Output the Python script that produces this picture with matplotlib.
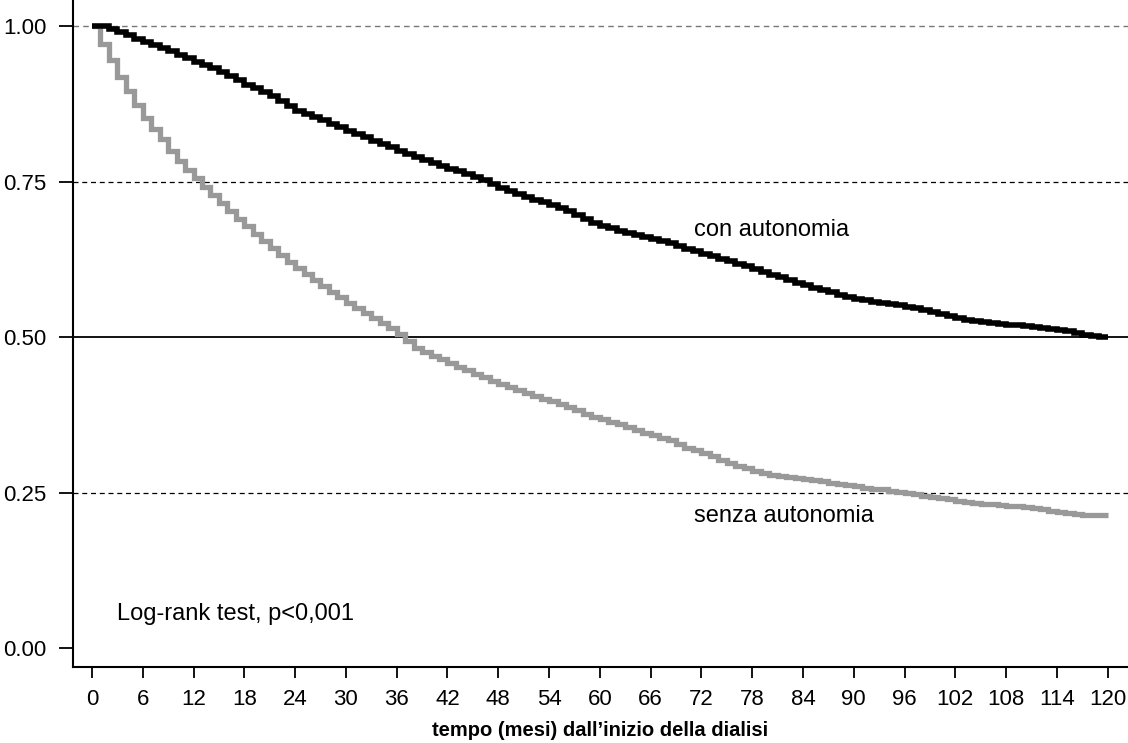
import matplotlib
matplotlib.use('Agg')
import matplotlib.pyplot as plt

plt.rcParams['font.family'] = ['Liberation Sans', 'DejaVu Sans']

# mesi dall'inizio della dialisi (0..120)
mesi = list(range(0, 121))

con_autonomia = [
    1.000, 1.000, 0.995, 0.990, 0.985, 0.980, 0.975, 0.970, 0.965, 0.960,
    0.953, 0.948, 0.943, 0.938, 0.933, 0.927, 0.920, 0.913, 0.906, 0.900,
    0.894, 0.887, 0.879, 0.871, 0.864, 0.859, 0.854, 0.849, 0.843, 0.837,
    0.831, 0.826, 0.821, 0.816, 0.811, 0.806, 0.800, 0.795, 0.790, 0.785,
    0.780, 0.775, 0.771, 0.767, 0.762, 0.757, 0.752, 0.746, 0.740, 0.735,
    0.730, 0.726, 0.721, 0.717, 0.712, 0.707, 0.702, 0.696, 0.690, 0.684,
    0.679, 0.675, 0.671, 0.667, 0.664, 0.661, 0.658, 0.655, 0.651, 0.647,
    0.642, 0.638, 0.634, 0.630, 0.626, 0.622, 0.618, 0.614, 0.610, 0.605,
    0.600, 0.596, 0.592, 0.587, 0.583, 0.579, 0.576, 0.572, 0.568, 0.565,
    0.562, 0.559, 0.557, 0.555, 0.553, 0.551, 0.549, 0.546, 0.543, 0.540,
    0.537, 0.534, 0.531, 0.528, 0.526, 0.524, 0.522, 0.521, 0.520, 0.519,
    0.518, 0.517, 0.515, 0.513, 0.511, 0.509, 0.506, 0.503, 0.501, 0.500,
    0.500,
]

senza_autonomia = [
    1.000, 0.972, 0.945, 0.918, 0.895, 0.873, 0.852, 0.835, 0.818, 0.800,
    0.783, 0.768, 0.755, 0.742, 0.728, 0.715, 0.702, 0.690, 0.678, 0.666,
    0.654, 0.643, 0.632, 0.621, 0.611, 0.601, 0.591, 0.582, 0.573, 0.564,
    0.555, 0.547, 0.539, 0.531, 0.523, 0.515, 0.505, 0.493, 0.483, 0.476,
    0.470, 0.464, 0.458, 0.452, 0.447, 0.441, 0.436, 0.430, 0.425, 0.420,
    0.415, 0.410, 0.405, 0.401, 0.397, 0.392, 0.387, 0.382, 0.377, 0.372,
    0.368, 0.364, 0.360, 0.355, 0.350, 0.346, 0.342, 0.338, 0.334, 0.328,
    0.322, 0.318, 0.313, 0.308, 0.303, 0.298, 0.293, 0.289, 0.285, 0.281,
    0.279, 0.277, 0.275, 0.274, 0.272, 0.270, 0.268, 0.266, 0.264, 0.262,
    0.260, 0.258, 0.256, 0.255, 0.253, 0.251, 0.249, 0.247, 0.245, 0.243,
    0.241, 0.239, 0.237, 0.235, 0.233, 0.232, 0.231, 0.230, 0.229, 0.228,
    0.227, 0.225, 0.223, 0.221, 0.219, 0.217, 0.215, 0.214, 0.214, 0.214,
    0.214,
]

xticks = list(range(0, 121, 6))
yticks = [0.00, 0.25, 0.50, 0.75, 1.00]

fig = plt.figure(figsize=(11.28, 7.43), dpi=100)
ax = fig.add_axes([73/1128, 1 - 667/743, 1 - 73/1128, 667/743])
ax.set_xlim(-2.24, 122.4)
ax.set_ylim(-0.0305, 1.042)

# linee di riferimento
ax.axhline(1.00, color='#777777', lw=1.0, ls=(0, (4, 3)), zorder=1)
ax.axhline(0.75, color='black', lw=0.9, ls=(0, (4, 3)), zorder=1)
ax.axhline(0.25, color='black', lw=0.9, ls=(0, (4, 3)), zorder=1)
ax.axhline(0.50, color='black', lw=1.3, zorder=1)

ax.step(mesi, senza_autonomia, where='post', color='#999999', lw=3.8,
        solid_joinstyle='miter', solid_capstyle='butt', zorder=2)
ax.step(mesi, con_autonomia, where='post', color='black', lw=4.0,
        solid_joinstyle='miter', solid_capstyle='butt', zorder=3)

ax.text(71.1, 0.672, 'con autonomia', fontsize=17, ha='left', va='center')
ax.text(71.1, 0.212, 'senza autonomia', fontsize=17, ha='left', va='center')
ax.text(3.0, 0.055, 'Log-rank test, p<0,001', fontsize=17, ha='left', va='center')

ax.set_xticks(xticks)
ax.set_yticks(yticks)
ax.set_yticklabels([f'{v:.2f}' for v in yticks])
ax.tick_params(axis='y', length=10, width=1.3, pad=9, labelsize=16)
ax.tick_params(axis='x', length=8, width=1.3, pad=8, labelsize=16)
for s in ['top', 'right']:
    ax.spines[s].set_visible(False)
ax.spines['left'].set_linewidth(1.5)
ax.spines['bottom'].set_linewidth(1.5)

ax.set_xlabel('tempo (mesi) dall\u2019inizio della dialisi', fontsize=14.5, fontweight='bold', labelpad=8)

fig.savefig('out.png', dpi=100, facecolor='white')
